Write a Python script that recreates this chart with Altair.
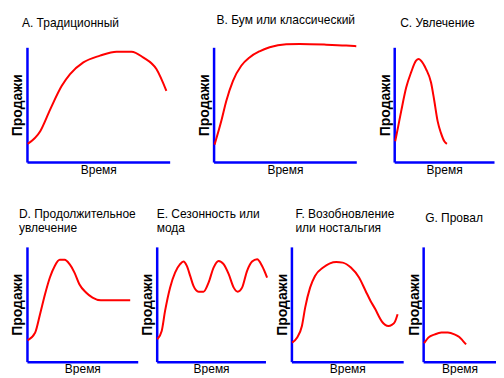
import altair as alt
import pandas as pd

# Panel A: Традиционный
a_x = [0.5, 9.3, 16.3, 24.4, 30.2, 39.5, 51.2, 62.8, 73.3, 81.4, 90.7, 97.7]
a_y = [15.8, 26.9, 45.9, 66.4, 76.6, 86.8, 92.7, 96.2, 96.2, 91.2, 81.0, 62.0]
# Panel B: Бум или классический
b_x = [0.7, 5.4, 8.9, 13.6, 19.4, 25.2, 32.2, 39.3, 50.9, 60.3, 78.9, 92.9, 100]
b_y = [15.2, 35.7, 53.2, 70.8, 83.9, 91.2, 96.5, 100, 102.6, 102.9, 102.3, 101.5, 100.9]
# Panel C: Увлечение
c_x = [1.0, 3.7, 7.0, 12.0, 16.9, 21.9, 24.6, 26.9, 31.9, 36.9, 40.2, 43.5, 46.8, 50.2, 52.8]
c_y = [18.1, 29.8, 44.4, 64.9, 78.1, 88.3, 89.8, 88.3, 81.0, 69.3, 53.2, 35.7, 25.4, 18.1, 15.8]
# Panel D: Продолжительное увлечение
d_x = [0.6, 7.4, 11.8, 16.3, 20.7, 25.1, 29.6, 34.0, 38.5, 42.9, 47.3, 53.3, 59.2, 66.6, 79.9, 93.2]
d_y = [18.6, 25.3, 41.3, 58.7, 73.3, 83.4, 88.7, 88.7, 84.9, 77.6, 67.4, 60.2, 55.8, 53.5, 53.5, 53.5]
# Panel E: Сезонность или мода
e_x = [0.6, 4.6, 7.7, 12.3, 16.9, 21.5, 24.6, 27.7, 30.8, 33.8, 38.5, 43.1, 47.7, 52.3, 56.9,
       61.5, 66.2, 70.8, 74.5, 78.5, 83.1, 87.7, 92.3, 96.9, 101.5]
e_y = [19.5, 26.7, 44.2, 64.5, 77.6, 84.9, 87.2, 83.4, 74.7, 66.0, 61.0, 61.0, 68.9, 82.0, 87.8,
       84.9, 76.2, 64.5, 61.0, 64.5, 79.1, 87.2, 89.2, 83.4, 73.3]
# Panel F: Возобновление или ностальгия
f_x = [0.6, 5.0, 9.4, 12.3, 16.7, 21.1, 28.4, 40.1, 45.9, 53.2, 60.5, 66.4, 70.8, 75.1, 78.1,
       81.0, 83.9, 86.8, 89.8, 92.7, 95.0]
f_y = [16.6, 20.9, 31.1, 47.1, 64.5, 74.7, 82.0, 86.9, 86.3, 82.0, 73.3, 61.6, 52.9, 45.6, 39.8,
       34.9, 32.0, 31.1, 32.0, 34.9, 41.3]
# Panel G: Провал
g_x = [1.3, 7.1, 16.1, 25.0, 33.9, 42.9, 49.6, 54.0, 58.9]
g_y = [16.0, 20.9, 23.8, 25.3, 25.3, 23.8, 21.5, 18.6, 15.1]

titles = {
    "A": ["A. Традиционный"],
    "B": ["B. Бум или классический"],
    "C": ["C. Увлечение"],
    "D": ["D. Продолжительное", "увлечение"],
    "E": ["E. Сезонность или", "мода"],
    "F": ["F. Возобновление", "или ностальгия"],
    "G": ["G. Провал"],
}
x_title = "Время"
y_title = "Продажи"

FONT = "Liberation Sans"
H = 115


def panel(key, xs, ys, w, dx, offset):
    df = pd.DataFrame({"t": xs, "s": ys})
    lines = titles[key]
    title = alt.TitleParams(
        lines if len(lines) > 1 else lines[0],
        anchor="start", frame="group", dx=dx, offset=offset,
        baseline="alphabetic", fontSize=12, fontWeight="normal",
        font=FONT, color="black", lineHeight=14,
    )
    return alt.Chart(df, title=title).mark_line(
        color="#FF0000", strokeWidth=2, interpolate="monotone"
    ).encode(
        x=alt.X("t:Q", scale=alt.Scale(domain=[0, 100], nice=False, zero=False),
                axis=alt.Axis(title=x_title, labels=False, ticks=False, grid=False,
                              domainColor="#0000FF", domainWidth=2.5,
                              titleFont=FONT, titleFontSize=12, titleFontWeight="normal",
                              titleColor="black", titlePadding=2)),
        y=alt.Y("s:Q", scale=alt.Scale(domain=[0, 100], nice=False, zero=False),
                axis=alt.Axis(title=y_title, labels=False, ticks=False, grid=False,
                              domainColor="#0000FF", domainWidth=2.5,
                              titleFont=FONT, titleFontSize=14, titleFontWeight="bold",
                              titleColor="black", titlePadding=2)),
    ).properties(width=w, height=H)


def spacer(w):
    return alt.Chart(pd.DataFrame({"t": [0]})).mark_point(opacity=0).encode(
        x=alt.X("t:Q", axis=None), y=alt.Y("t:Q", axis=None)
    ).properties(width=w, height=H)


pA = panel("A", a_x, a_y, 143, -5, 8)
pB = panel("B", b_x, b_y, 143, 3, 4)
pC = panel("C", c_x, c_y, 100, 6, 8)
pD = panel("D", d_x, d_y, 111, -8, 3)
pE = panel("E", e_x, e_y, 109, 0, 3)
pF = panel("F", f_x, f_y, 112, 4, 3)
pG = panel("G", g_x, g_y, 73, 2, 13)

row1 = alt.hconcat(pA, spacer(44), pB, spacer(38), pC, spacing=0, bounds="flush")
row2 = alt.hconcat(pD, spacer(19), pE, spacer(26), pF, spacer(20), pG, spacing=0, bounds="flush")

chart = alt.vconcat(row1, row2, spacing=33).configure_view(
    stroke=None
).properties(
    background="white",
    padding={"left": 3, "right": 0, "top": 5, "bottom": 0},
)

chart.save("out.html", embed_options={"renderer": "svg", "actions": False})
